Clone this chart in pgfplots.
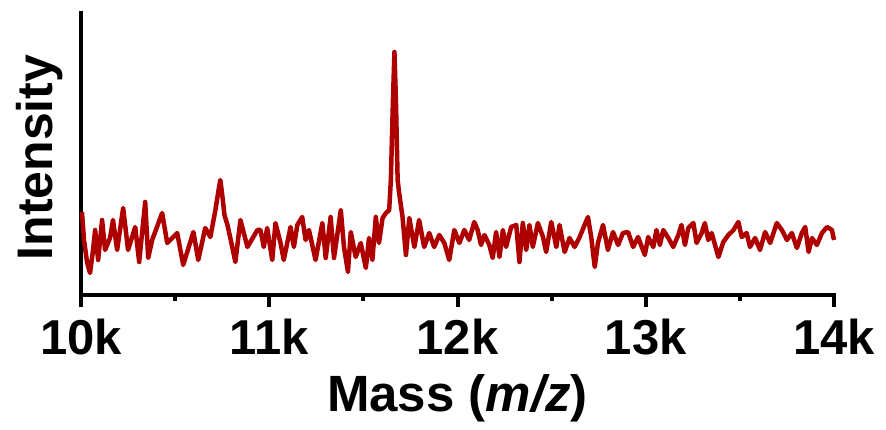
\documentclass[border=0pt]{standalone}
\usepackage{fontspec}
\setmainfont{Liberation Sans}
\usepackage{pgfplots}
\usepackage{pgfplotstable}
\pgfplotsset{compat=1.18}

\definecolor{specred}{RGB}{175,0,0}

% mass in k (m/z / 1000), intensity in arbitrary units
\pgfplotstableread{
mass intensity
10.005 79
10.016 51
10.032 29
10.048 18
10.064 41
10.075 61
10.091 31
10.112 71
10.128 41
10.154 53
10.170 71
10.192 41
10.224 83
10.250 41
10.288 64
10.309 29
10.341 89
10.357 33
10.378 51
10.431 78
10.458 48
10.511 58
10.543 26
10.597 59
10.623 31
10.660 63
10.687 54
10.714 81
10.730 100
10.740 111
10.751 95
10.762 76
10.778 66
10.799 48
10.820 29
10.847 71
10.884 44
10.937 61
10.953 61
10.971 44
10.989 63
11.016 31
11.033 68
11.060 48
11.077 31
11.113 64
11.131 44
11.149 66
11.175 74
11.193 51
11.211 61
11.246 31
11.282 68
11.300 33
11.326 74
11.344 33
11.380 81
11.397 44
11.418 19
11.433 59
11.459 34
11.486 48
11.513 23
11.530 53
11.548 31
11.566 74
11.583 48
11.602 73
11.620 78
11.637 81
11.646 111
11.657 190
11.665 239
11.673 190
11.682 111
11.690 98
11.708 74
11.726 36
11.744 73
11.771 44
11.796 71
11.823 44
11.850 58
11.876 44
11.903 56
11.930 48
11.956 31
11.983 61
12.010 48
12.036 61
12.062 51
12.089 69
12.107 61
12.125 46
12.143 56
12.169 46
12.187 33
12.205 59
12.223 34
12.241 61
12.258 44
12.285 64
12.312 66
12.329 29
12.347 68
12.365 41
12.382 66
12.400 44
12.427 68
12.454 54
12.471 39
12.498 69
12.525 44
12.542 66
12.569 39
12.595 53
12.622 44
12.649 54
12.675 66
12.693 74
12.711 53
12.729 24
12.746 48
12.773 66
12.799 41
12.826 59
12.853 46
12.879 58
12.906 59
12.933 44
12.959 54
12.995 36
13.013 54
13.040 44
13.057 61
13.075 46
13.093 61
13.120 53
13.146 44
13.173 56
13.190 66
13.208 46
13.226 63
13.253 68
13.270 48
13.297 58
13.314 68
13.332 51
13.350 58
13.368 46
13.386 34
13.412 49
13.439 56
13.466 61
13.492 69
13.510 54
13.536 58
13.554 44
13.581 53
13.607 41
13.634 59
13.661 48
13.696 68
13.723 61
13.750 51
13.776 58
13.803 43
13.829 58
13.847 64
13.865 39
13.883 53
13.909 46
13.936 58
13.963 64
13.989 61
14.000 51
}\spectrum

\begin{document}
\begin{tikzpicture}
\useasboundingbox (-81pt,-135pt) rectangle (805pt,295pt);
\begin{axis}[
    at={(0,0)}, anchor=south west,
    scale only axis,
    width=753pt, height=282pt,
    xmin=10, xmax=14,
    ymin=-4, ymax=278,
    axis x line*=bottom,
    axis y line*=left,
    axis line style={line width=4pt, line cap=rect},
    xtick={10,11,12,13,14},
    xticklabels={10k,11k,12k,13k,14k},
    minor xtick={10.5,11.5,12.5,13.5},
    ytick=\empty,
    tick align=outside,
    major tick length=12pt,
    minor tick length=6pt,
    every tick/.style={black, line width=4pt},
    xticklabel style={anchor=base, yshift=-48pt, font=\fontsize{49}{49}\selectfont\bfseries},
    every axis x label/.style={at={(axis description cs:0.5,0)}, anchor=base, yshift=-117pt,
        font=\fontsize{51}{51}\selectfont\bfseries},
    every axis y label/.style={at={(axis description cs:-0.0385,0.4876)}, rotate=90, anchor=base,
        font=\fontsize{50}{50}\selectfont\bfseries},
    xlabel={Mass (\textit{m/z})},
    ylabel={Intensity},
    clip=false,
]
\addplot[specred, line width=4.5pt, line join=round] table[x=mass, y=intensity] {\spectrum};
\end{axis}
\end{tikzpicture}
\end{document}
